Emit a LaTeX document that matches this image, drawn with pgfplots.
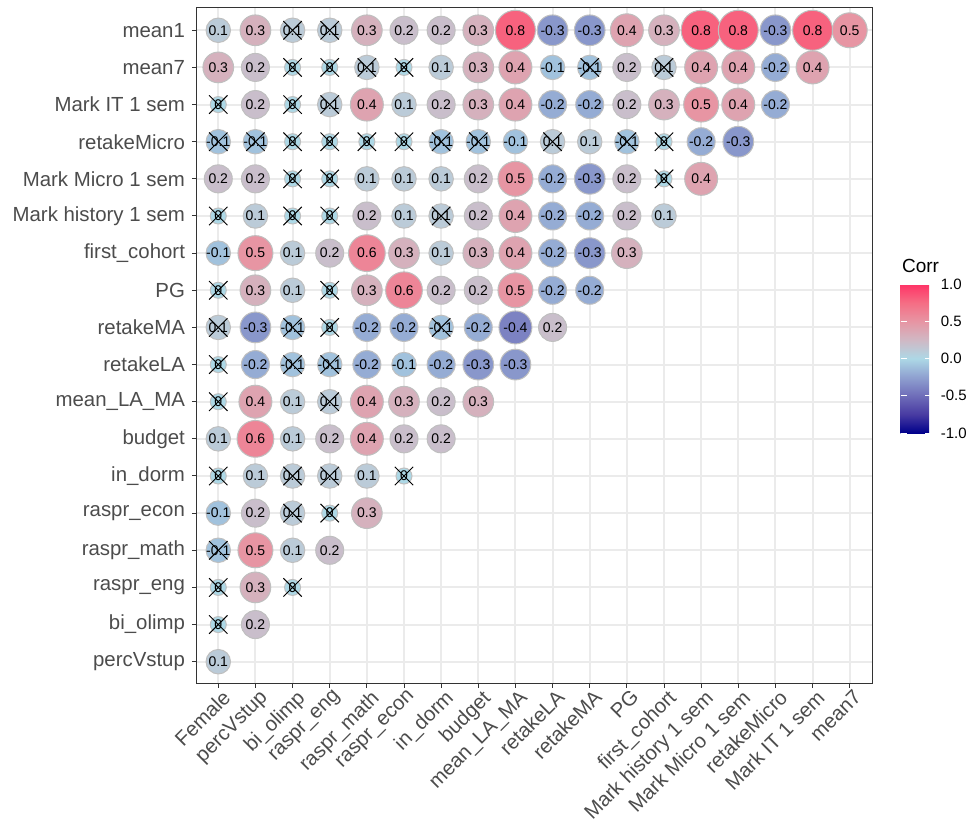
\documentclass[border=0pt]{standalone}
\usepackage{pgfplots}
\pgfplotsset{compat=1.18}
\usepackage{pgfplotstable}
\usepackage{fontspec}
\setmainfont{Liberation Sans}

\pgfplotstableread{
x y r c
0 17 0.1 0
1 17 0.3 0
2 17 0.1 1
3 17 0.1 1
4 17 0.3 0
5 17 0.2 0
6 17 0.2 0
7 17 0.3 0
8 17 0.8 0
9 17 -0.3 0
10 17 -0.3 0
11 17 0.4 0
12 17 0.3 0
13 17 0.8 0
14 17 0.8 0
15 17 -0.3 0
16 17 0.8 0
17 17 0.5 0
0 16 0.3 0
1 16 0.2 0
2 16 0 1
3 16 0 1
4 16 0.1 1
5 16 0 1
6 16 0.1 0
7 16 0.3 0
8 16 0.4 0
9 16 -0.1 0
10 16 -0.1 1
11 16 0.2 0
12 16 0.1 1
13 16 0.4 0
14 16 0.4 0
15 16 -0.2 0
16 16 0.4 0
0 15 0 1
1 15 0.2 0
2 15 0 1
3 15 0.1 1
4 15 0.4 0
5 15 0.1 0
6 15 0.2 0
7 15 0.3 0
8 15 0.4 0
9 15 -0.2 0
10 15 -0.2 0
11 15 0.2 0
12 15 0.3 0
13 15 0.5 0
14 15 0.4 0
15 15 -0.2 0
0 14 -0.1 1
1 14 -0.1 1
2 14 0 1
3 14 0 1
4 14 0 1
5 14 0 1
6 14 -0.1 1
7 14 -0.1 1
8 14 -0.1 0
9 14 0.1 1
10 14 0.1 0
11 14 -0.1 1
12 14 0 1
13 14 -0.2 0
14 14 -0.3 0
0 13 0.2 0
1 13 0.2 0
2 13 0 1
3 13 0 1
4 13 0.1 0
5 13 0.1 0
6 13 0.1 0
7 13 0.2 0
8 13 0.5 0
9 13 -0.2 0
10 13 -0.3 0
11 13 0.2 0
12 13 0 1
13 13 0.4 0
0 12 0 1
1 12 0.1 0
2 12 0 1
3 12 0 1
4 12 0.2 0
5 12 0.1 0
6 12 0.1 1
7 12 0.2 0
8 12 0.4 0
9 12 -0.2 0
10 12 -0.2 0
11 12 0.2 0
12 12 0.1 0
0 11 -0.1 0
1 11 0.5 0
2 11 0.1 0
3 11 0.2 0
4 11 0.6 0
5 11 0.3 0
6 11 0.1 0
7 11 0.3 0
8 11 0.4 0
9 11 -0.2 0
10 11 -0.3 0
11 11 0.3 0
0 10 0 1
1 10 0.3 0
2 10 0.1 0
3 10 0 1
4 10 0.3 0
5 10 0.6 0
6 10 0.2 0
7 10 0.2 0
8 10 0.5 0
9 10 -0.2 0
10 10 -0.2 0
0 9 0.1 1
1 9 -0.3 0
2 9 -0.1 1
3 9 0 1
4 9 -0.2 0
5 9 -0.2 0
6 9 -0.1 1
7 9 -0.2 0
8 9 -0.4 0
9 9 0.2 0
0 8 0 1
1 8 -0.2 0
2 8 -0.1 1
3 8 -0.1 1
4 8 -0.2 0
5 8 -0.1 0
6 8 -0.2 0
7 8 -0.3 0
8 8 -0.3 0
0 7 0 1
1 7 0.4 0
2 7 0.1 0
3 7 0.1 1
4 7 0.4 0
5 7 0.3 0
6 7 0.2 0
7 7 0.3 0
0 6 0.1 0
1 6 0.6 0
2 6 0.1 0
3 6 0.2 0
4 6 0.4 0
5 6 0.2 0
6 6 0.2 0
0 5 0 1
1 5 0.1 0
2 5 0.1 1
3 5 0.1 1
4 5 0.1 0
5 5 0 1
0 4 -0.1 0
1 4 0.2 0
2 4 0.1 1
3 4 0 1
4 4 0.3 0
0 3 -0.1 1
1 3 0.5 0
2 3 0.1 0
3 3 0.2 0
0 2 0 1
1 2 0.3 0
2 2 0 1
0 1 0 1
1 1 0.2 0
0 0 0.1 0
}\corrdata

\pgfplotsset{
  colormap={corrmap}{rgb255=(0,0,139) rgb255=(72,59,162) rgb255=(111,109,185) rgb255=(143,161,208) rgb255=(173,216,230) rgb255=(208,184,196) rgb255=(231,149,163) rgb255=(245,109,132) rgb255=(255,51,102)}
}

\begin{document}
\begin{tikzpicture}
\useasboundingbox (0,0) rectangle (484.5pt,415pt);
\begin{axis}[
  at={(98pt,73pt)}, anchor=south west,
  scale only axis, width=338pt, height=338pt,
  xmin=-0.6, xmax=17.6, ymin=-0.6, ymax=17.6,
  xtick={0,...,17}, ytick={0,...,17},
  xticklabels={Female,percVstup,bi\_olimp,raspr\_eng,raspr\_math,raspr\_econ,in\_dorm,budget,mean\_LA\_MA,retakeLA,retakeMA,PG,first\_cohort,{Mark history 1 sem},{Mark Micro 1 sem},retakeMicro,{Mark IT 1 sem},mean7},
  yticklabels={percVstup,bi\_olimp,raspr\_eng,raspr\_math,raspr\_econ,in\_dorm,budget,mean\_LA\_MA,retakeLA,retakeMA,PG,first\_cohort,{Mark history 1 sem},{Mark Micro 1 sem},retakeMicro,{Mark IT 1 sem},mean7,mean1},
  grid=major, major grid style={black!8, line width=1pt},
  axis line style={black!80, line width=0.5pt},
  tick align=outside, major tick length=2pt,
  tick style={black!80, line width=0.5pt},
  xtick pos=bottom, ytick pos=left,
  tick label style={font=\fontsize{10.2}{12}\selectfont, text=black!70},
  xticklabel style={rotate=45, anchor=north east, inner sep=1pt, xshift=2pt},
  colormap name=corrmap,
  point meta min=-1, point meta max=1,
  colorbar,
  colorbar style={
    at={(1.0425,0.5917)}, anchor=north west,
    scale only axis, width=15pt, height=74.5pt,
    axis line style={draw=none},
    ytick={-1,-0.5,0,0.5,1},
    yticklabel pos=right, ytick pos=both,
    tick align=inside, major tick length=3pt,
    tick style={white, line width=0.5pt},
    yticklabel style={/pgf/number format/assume math mode=true, /pgf/number format/fixed, /pgf/number format/fixed zerofill, /pgf/number format/precision=1, font=\fontsize{7.5}{9}\selectfont, text=black, xshift=1.5pt},
    title={Corr},
    title style={font=\fontsize{9.5}{11}\selectfont, anchor=south west, at={(0,1)}, inner sep=0pt, yshift=-0.5pt, xshift=0.5pt},
  },
]
\addplot[scatter, only marks, mark=*,
  point meta=explicit,
  scatter/use mapped color={draw=black!25, fill=mapped color, line width=0.5pt},
  visualization depends on={4+6*sqrt(abs(\thisrow{r})/0.8) \as \msize},
  scatter/@pre marker code/.append style={/tikz/mark size=\msize},
] table[x=x, y=y, meta=r] {\corrdata};
\addplot[draw=none, mark=none,
  point meta=explicit symbolic,
  nodes near coords, nodes near coords align={center},
  nodes near coords style={font=\fontsize{7}{8}\selectfont, text=black, inner sep=0pt},
] table[x=x, y=y, meta=r] {\corrdata};
\addplot[only marks, mark=x, mark size=6.5pt, black, line width=0.5pt,
  restrict expr to domain={\thisrow{c}}{0.5:1.5},
] table[x=x, y=y] {\corrdata};
\end{axis}
\end{tikzpicture}
\end{document}
